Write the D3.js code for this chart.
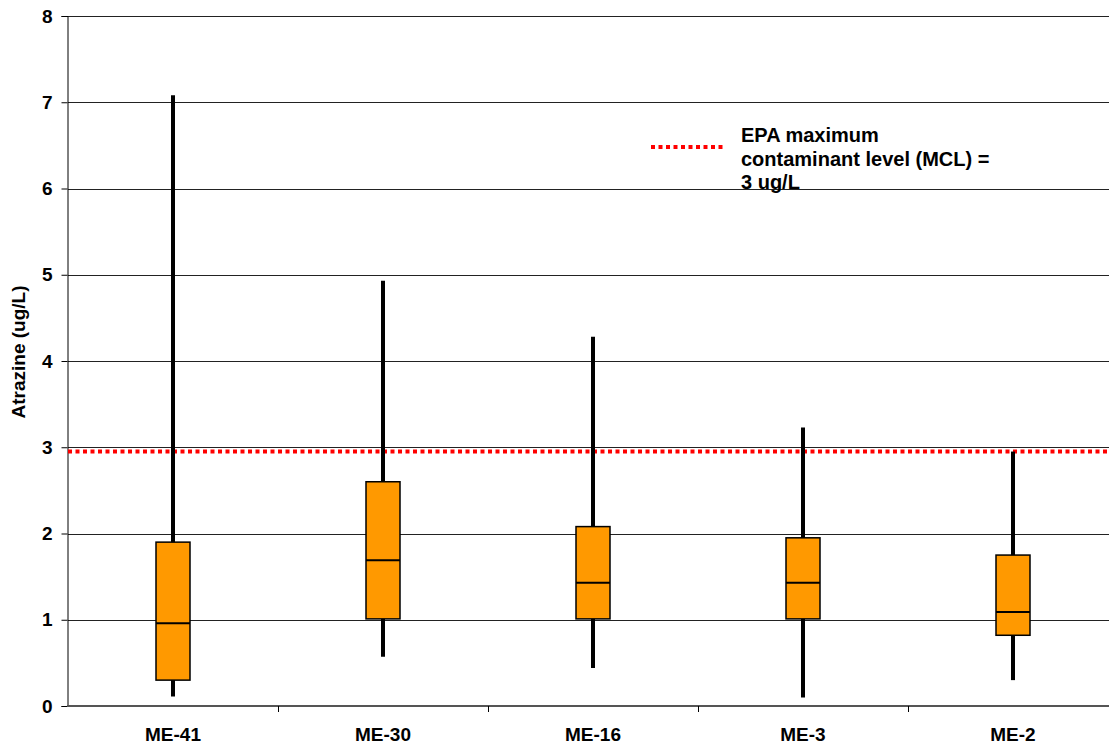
<!DOCTYPE html>
<html>
<head>
<meta charset="utf-8">
<script src="https://cdn.jsdelivr.net/npm/d3@7"></script>
<style>
  body { margin: 0; background: #fff; }
  svg { display: block; font-family: "Liberation Sans", Arial, sans-serif; }
</style>
</head>
<body>
<svg id="chart" width="1109" height="746"></svg>
<script>
// Data
const sites = ['ME-41', 'ME-30', 'ME-16', 'ME-3', 'ME-2'];
const whiskerLow = [0.11, 0.57, 0.44, 0.1, 0.3];
const boxLow = [0.3, 1.01, 1.01, 1.01, 0.82];
const medians = [0.96, 1.69, 1.43, 1.43, 1.09];
const boxHigh = [1.9, 2.6, 2.08, 1.95, 1.75];
const whiskerHigh = [7.08, 4.93, 4.28, 3.23, 2.95];
const yTicks = [0, 1, 2, 3, 4, 5, 6, 7, 8];
const mcl = 2.95;
const legendLines = ['EPA maximum', 'contaminant level (MCL) =', '3 ug/L'];

const svg = d3.select('#chart');
const width = 1109;
const plotLeft = 68, plotTop = 16, plotBottom = 706;
const fontSize = 19;

const x = d3.scaleBand().domain(sites).range([plotLeft, plotLeft + 210 * sites.length]).padding(0);
const y = d3.scaleLinear().domain([0, 8]).range([plotBottom, plotTop]);

const boxes = sites.map((s, i) => ({
  site: s, lo: whiskerLow[i], q1: boxLow[i], med: medians[i], q3: boxHigh[i], hi: whiskerHigh[i]
}));

// gridlines
svg.append('g')
  .selectAll('line')
  .data(yTicks.filter(d => d > 0))
  .join('line')
  .attr('x1', plotLeft).attr('x2', width)
  .attr('y1', d => Math.round(y(d)) + 0.5).attr('y2', d => Math.round(y(d)) + 0.5)
  .attr('stroke', '#222').attr('stroke-width', 1);

// y axis
const yAxis = svg.append('g')
  .attr('transform', `translate(${plotLeft - 0.5},0)`)
  .call(d3.axisLeft(y).tickValues(yTicks).tickSize(6).tickPadding(9).tickFormat(d3.format('d')));
yAxis.select('.domain').attr('stroke', '#000');
yAxis.selectAll('.tick line').attr('stroke', '#000');
yAxis.selectAll('.tick text')
  .attr('font-family', '"Liberation Sans", Arial, sans-serif')
  .attr('font-size', fontSize).attr('font-weight', 'bold').attr('fill', '#000');

// x axis
const xAxis = svg.append('g')
  .attr('transform', `translate(0,${plotBottom})`)
  .call(d3.axisBottom(x).tickSize(0).tickPadding(22));
xAxis.select('.domain').remove();
xAxis.selectAll('.tick text')
  .attr('font-family', '"Liberation Sans", Arial, sans-serif')
  .attr('font-size', fontSize).attr('font-weight', 'bold').attr('fill', '#000');

svg.append('line')
  .attr('x1', plotLeft - 1).attr('x2', width)
  .attr('y1', plotBottom).attr('y2', plotBottom)
  .attr('stroke', '#555').attr('stroke-width', 2);

// category separator ticks
svg.append('g')
  .selectAll('line')
  .data(sites.slice(1))
  .join('line')
  .attr('x1', d => Math.round(x(d)) + 0.5).attr('x2', d => Math.round(x(d)) + 0.5)
  .attr('y1', plotBottom).attr('y2', plotBottom + 6)
  .attr('stroke', '#000').attr('stroke-width', 1);

// y label
svg.append('text')
  .attr('transform', `translate(25,352) rotate(-90)`)
  .attr('text-anchor', 'middle')
  .attr('font-size', fontSize).attr('font-weight', 'bold')
  .text('Atrazine (ug/L)');

// MCL line
svg.append('line')
  .attr('x1', plotLeft).attr('x2', width)
  .attr('y1', y(mcl)).attr('y2', y(mcl))
  .attr('stroke', '#ff0000').attr('stroke-width', 4)
  .attr('stroke-dasharray', '4,3.5');

// box plots
const boxW = 34;
const g = svg.append('g');
const cx = d => x(d.site) + x.bandwidth() / 2;

g.selectAll('.whisker')
  .data(boxes)
  .join('line')
  .attr('class', 'whisker')
  .attr('x1', cx).attr('x2', cx)
  .attr('y1', d => y(d.lo)).attr('y2', d => y(d.hi))
  .attr('stroke', '#000').attr('stroke-width', 4);

g.selectAll('.box')
  .data(boxes)
  .join('rect')
  .attr('class', 'box')
  .attr('x', d => cx(d) - boxW / 2)
  .attr('width', boxW)
  .attr('y', d => y(d.q3))
  .attr('height', d => y(d.q1) - y(d.q3))
  .attr('fill', '#ff9900')
  .attr('stroke', '#000').attr('stroke-width', 1.5);

g.selectAll('.median')
  .data(boxes)
  .join('line')
  .attr('class', 'median')
  .attr('x1', d => cx(d) - boxW / 2).attr('x2', d => cx(d) + boxW / 2)
  .attr('y1', d => y(d.med)).attr('y2', d => y(d.med))
  .attr('stroke', '#000').attr('stroke-width', 2);

// legend
const legend = svg.append('g').attr('transform', 'translate(651,147)');
legend.append('line')
  .attr('x1', 0).attr('x2', 72)
  .attr('y1', 0).attr('y2', 0)
  .attr('stroke', '#ff0000').attr('stroke-width', 4)
  .attr('stroke-dasharray', '4,3.5');
legend.append('text')
  .attr('x', 90).attr('y', -5)
  .attr('font-size', 20).attr('font-weight', 'bold')
  .selectAll('tspan')
  .data(legendLines)
  .join('tspan')
  .attr('x', 90)
  .attr('dy', (d, i) => i === 0 ? 0 : 23.5)
  .text(d => d);
</script>
</body>
</html>
